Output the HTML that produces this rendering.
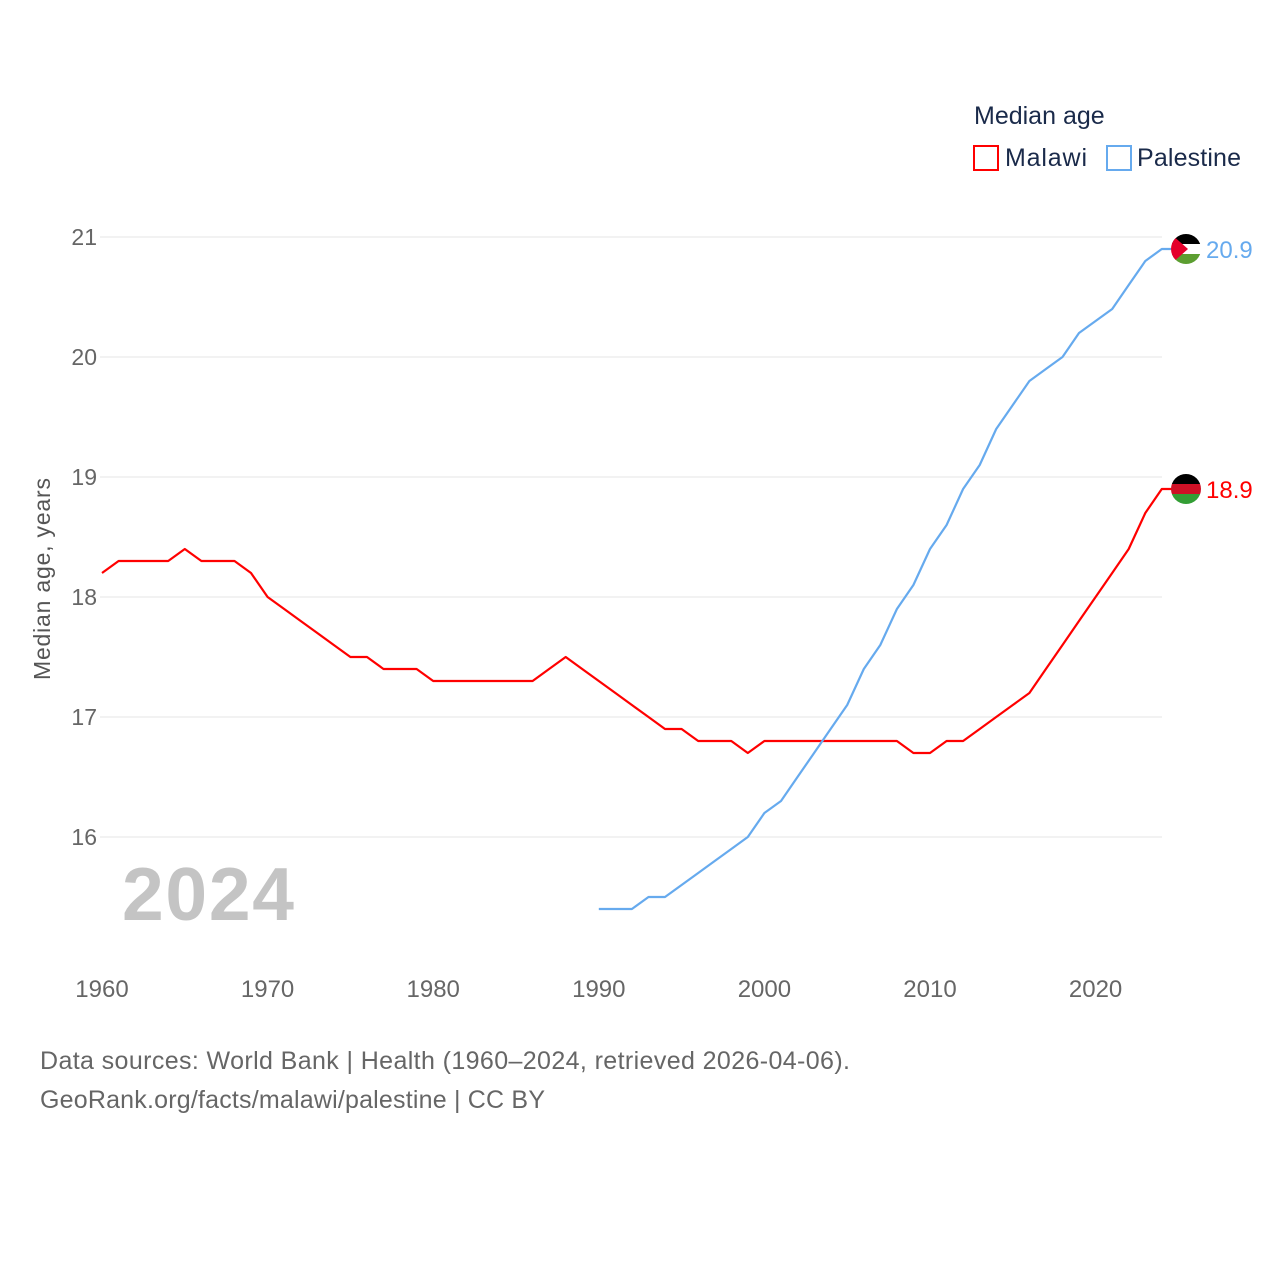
<!DOCTYPE html>
<html><head><meta charset="utf-8">
<style>
body{margin:0;background:#fff;font-family:"Liberation Sans",sans-serif;}
svg{display:block}
</style></head>
<body>
<svg id="chart" width="1280" height="1280" viewBox="0 0 1280 1280">
<text x="974" y="124" font-size="25" fill="#1a2a4a">Median age</text>
<g>
<rect x="974" y="146" width="24" height="24" fill="none" stroke="#ff0000" stroke-width="2"/>
<text x="1005" y="166" font-size="25" fill="#1a2a4a" textLength="82">Malawi</text></g>
<g>
<rect x="1107" y="146" width="24" height="24" fill="none" stroke="#66aaee" stroke-width="2"/>
<text x="1137" y="166" font-size="25" fill="#1a2a4a" textLength="104">Palestine</text></g>
<g id="grid"></g><g id="yt"></g><g id="xt"></g><g id="lines"></g>
<text x="208" y="920" font-size="75" font-weight="bold" fill="#c4c4c4" text-anchor="middle" textLength="172">2024</text>
<text transform="translate(50,579) rotate(-90)" font-size="23" fill="#555" text-anchor="middle" textLength="202">Median age, years</text>
<text x="40" y="1069" font-size="25" fill="#666" textLength="810">Data sources: World Bank | Health (1960–2024, retrieved 2026-04-06).</text>
<text x="40" y="1108" font-size="25" fill="#666" textLength="505">GeoRank.org/facts/malawi/palestine | CC BY</text>
</svg>
<script>
const malawiYears=[1960,1961,1962,1963,1964,1965,1966,1967,1968,1969,1970,1971,1972,1973,1974,1975,1976,1977,1978,1979,1980,1981,1982,1983,1984,1985,1986,1987,1988,1989,1990,1991,1992,1993,1994,1995,1996,1997,1998,1999,2000,2001,2002,2003,2004,2005,2006,2007,2008,2009,2010,2011,2012,2013,2014,2015,2016,2017,2018,2019,2020,2021,2022,2023,2024];
const malawiValues=[18.2,18.3,18.3,18.3,18.3,18.4,18.3,18.3,18.3,18.2,18.0,17.9,17.8,17.7,17.6,17.5,17.5,17.4,17.4,17.4,17.3,17.3,17.3,17.3,17.3,17.3,17.3,17.4,17.5,17.4,17.3,17.2,17.1,17.0,16.9,16.9,16.8,16.8,16.8,16.7,16.8,16.8,16.8,16.8,16.8,16.8,16.8,16.8,16.8,16.7,16.7,16.8,16.8,16.9,17.0,17.1,17.2,17.4,17.6,17.8,18.0,18.2,18.4,18.7,18.9];
const palYears=[1990,1991,1992,1993,1994,1995,1996,1997,1998,1999,2000,2001,2002,2003,2004,2005,2006,2007,2008,2009,2010,2011,2012,2013,2014,2015,2016,2017,2018,2019,2020,2021,2022,2023,2024];
const palValues=[15.4,15.4,15.4,15.5,15.5,15.6,15.7,15.8,15.9,16.0,16.2,16.3,16.5,16.7,16.9,17.1,17.4,17.6,17.9,18.1,18.4,18.6,18.9,19.1,19.4,19.6,19.8,19.9,20.0,20.2,20.3,20.4,20.6,20.8,20.9];
const yTicks=[16,17,18,19,20,21];
const xTicks=[1960,1970,1980,1990,2000,2010,2020];
const NS="http://www.w3.org/2000/svg";
const X=y=>102+(y-1960)*16.56;
const Y=v=>837-(v-16)*120;
function mk(t,a,p){const e=document.createElementNS(NS,t);for(const k in a)e.setAttribute(k,a[k]);p.appendChild(e);return e;}
const grid=document.getElementById('grid'),yt=document.getElementById('yt'),xt=document.getElementById('xt'),lines=document.getElementById('lines');
yTicks.forEach(v=>{
const l=mk('line',{x1:100,x2:1162,y1:Y(v),y2:Y(v),stroke:'#e6e6e6','stroke-width':1},grid);


const t=mk('text',{x:97,y:Y(v)+8,'font-size':23,fill:'#666','text-anchor':'end'},yt);t.textContent=v;


});
xTicks.forEach(v=>{
const t=mk('text',{x:X(v),y:997,'font-size':24,fill:'#666','text-anchor':'middle'},xt);t.textContent=v;


});
function series(years,vals,color,name,label){
const last=vals[vals.length-1];
const d=years.map((y,i)=>(i?'L':'M')+X(y).toFixed(1)+','+Y(vals[i]).toFixed(1)).join('')+'L1172,'+Y(last).toFixed(1);
const p=mk('path',{d:d,fill:'none',stroke:color,'stroke-width':2.2,'stroke-linejoin':'round'},lines);


const ly=Y(last);
const t=mk('text',{x:1206,y:ly+9,'font-size':24,fill:color},lines);t.textContent=label;


return ly;
}
const ym=series(malawiYears,malawiValues,'#ff0000','malawi',malawiValues[malawiValues.length-1].toFixed(1));
const yp=series(palYears,palValues,'#66aaee','palestine',palValues[palValues.length-1].toFixed(1));
function flag(cy,name,cols,tri){
const g=mk('g',{},lines);


const id='c'+name;
const cp=mk('clipPath',{id:id},g);mk('circle',{cx:1186,cy:cy,r:15},cp);
const gg=mk('g',{'clip-path':'url(#'+id+')'},g);
cols.forEach((c,i)=>mk('rect',{x:1171,y:cy-15+i*10,width:30,height:10,fill:c},gg));
if(tri)mk('polygon',{points:`1171,${cy-15} 1188,${cy} 1171,${cy+15}`,fill:'#e4002b'},gg);
}
flag(ym,'malawi',['#000','#ce1126','#339e35'],false);
flag(yp,'palestine',['#000','#fff','#5c9e31'],true);
</script>
</body></html>
